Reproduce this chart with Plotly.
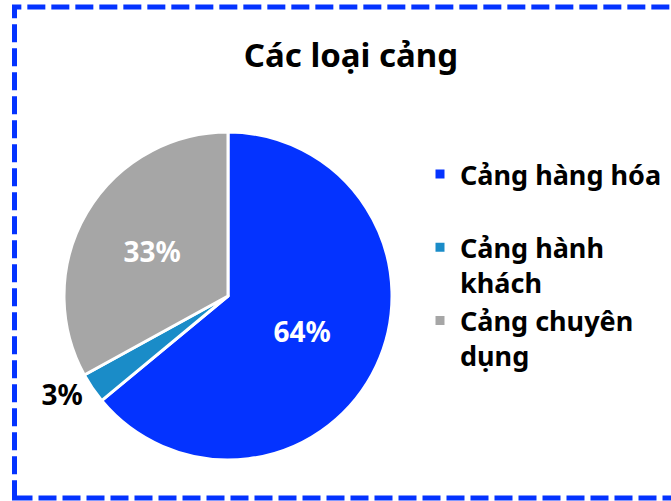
import plotly.graph_objects as go

# data
labels = ["Cảng hàng hóa<br> ", "Cảng hành<br>khách", "Cảng chuyên<br>dụng"]
values = [64, 3, 33]
colors = ["#0433FF", "#1A8CC8", "#A6A6A6"]
text_positions = ["inside", "outside", "inside"]

W, H = 671, 501

fig = go.Figure(go.Pie(
    labels=labels,
    values=values,
    sort=False,
    direction="clockwise",
    rotation=0,
    marker=dict(colors=colors, line=dict(color="white", width=3)),
    texttemplate="%{percent:.0%}",
    textposition=text_positions,
    insidetextfont=dict(color="white", size=28, family="Noto Sans", weight="bold"),
    outsidetextfont=dict(color="black", size=28, family="Noto Sans", weight="bold"),
    insidetextorientation="horizontal",
    domain=dict(x=[64 / W, 392 / W], y=[1 - 460 / H, 1 - 132 / H]),
    hoverinfo="label+percent",
))

fig.update_layout(
    width=W, height=H,
    margin=dict(l=0, r=0, t=0, b=0),
    paper_bgcolor="white",
    font=dict(family="Noto Sans", color="black"),
    title=dict(
        text="<b>Các loại cảng</b>",
        x=351 / W, xanchor="center",
        y=1 - 55 / H, yanchor="middle",
        font=dict(size=33, family="Noto Sans", color="black"),
    ),
    legend=dict(
        x=420 / W, xanchor="left",
        y=1 - 150 / H, yanchor="top",
        font=dict(size=27, family="Noto Sans", color="black", weight="bold"),
        valign="top",
        itemwidth=30,
        bgcolor="rgba(0,0,0,0)",
    ),
    shapes=[dict(
        type="rect", xref="paper", yref="paper",
        x0=14.5 / W, x1=1.02, y0=1 - 498 / H, y1=1 - 7 / H,
        line=dict(color="#0433FF", width=5, dash="18px,6px"),
        fillcolor="rgba(0,0,0,0)",
        layer="above",
    )],
)

# drop the page's default 8px body margin so the figure sits at the window origin
fig.write_html(
    "out.html",
    config={"displayModeBar": False},
    post_script="document.body.style.margin='0';",
)
